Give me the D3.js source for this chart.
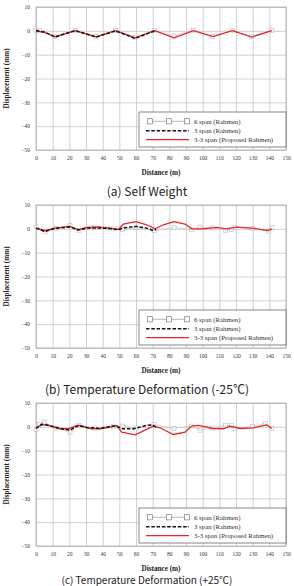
<!DOCTYPE html>
<html>
<head>
<meta charset="utf-8">
<script src="https://cdn.jsdelivr.net/npm/d3@7/dist/d3.min.js"></script>
<style>
body { margin: 0; background: #fff; }
svg { display: block; }
</style>
</head>
<body>
<svg id="chart" width="294" height="586"></svg>
<script>
// axis ticks
const xTicks = [0, 10, 20, 30, 40, 50, 60, 70, 80, 90, 100, 110, 120, 130, 140, 150];
const yTicks = [10, 0, -10, -20, -30, -40, -50];
const seriesNames = ["6 span (Rahmen)", "3 span (Rahmen)", "3-3 span (Proposed Rahmen)"];
const captions = ["(a) Self Weight", "(b) Temperature Deformation (-25\u2103)", "(c) Temperature Deformation (+25\u2103)"];

// (a) self weight  [distance m, displacement mm]
const selfWeight6 = [[0,0.2],[2,0],[11,-2.3],[23.5,0.2],[36,-2.4],[47.8,0.2],[59.5,-2.7],[71.2,0.2],[82.8,-2.2],[94.5,0.3],[106,-2.3],[117.8,0.2],[129.4,-2.5],[141.5,0.2]];
const selfWeight3 = [[0,0.1],[5,-0.5],[11.5,-2.6],[23.5,0.1],[36,-2.6],[47.8,0],[59.3,-3.2],[71.2,0]];
const selfWeight33 = [[0,0],[5,-0.6],[11.5,-2.5],[23.5,0.1],[36.2,-2.5],[47.8,0.1],[59.5,-2.9],[71.2,0.1],[82.8,-2.9],[94.5,0.1],[106.2,-2.4],[117.8,0.1],[129.4,-2.6],[141.5,0.1]];

// (b) temperature -25
const tempMinus6 = [[0,0.8],[5.4,-1.3],[12,0.2],[20.4,1.5],[25.8,-0.6],[35,0.4],[46.4,0],[52,-0.3],[60,0.5],[70.8,-0.8],[82.8,0.6],[93.4,-0.4],[98.4,0.7],[106,0.3],[113.8,-0.7],[117.4,-0.3],[119.4,0.6],[130,0.2],[139.4,-1],[141.5,0.6]];
const tempMinus3 = [[0,0.3],[5.4,-1.1],[11.4,0.2],[20.4,0.8],[25.4,-0.5],[30.4,0.3],[38,0.4],[46.4,0],[49.4,-0.4],[53.4,0.5],[60.4,1],[66.4,0.3],[70.4,-0.7],[72,-0.3]];
const tempMinus33 = [[0,0.3],[5.4,-0.8],[11.4,0.3],[20.4,1],[25.4,-0.4],[30.4,0.6],[37.4,0.8],[44.4,0.3],[49.4,-0.3],[52.4,2],[60,3],[66.4,1.7],[71.4,0],[76.4,1.7],[82.8,3],[89.4,2],[93.4,0],[100.4,0],[108.4,0.6],[114.4,0],[120.4,0.7],[129.4,0.3],[136.4,-0.4],[139.4,-0.7],[141.5,0]];

// (c) temperature +25
const tempPlus6 = [[0,-1.1],[2,1],[5,2],[12,-0.5],[20.4,-2.2],[25.8,0.6],[35,-0.5],[46.4,0],[52,0.3],[60,-0.5],[70.8,1],[82.8,-0.6],[93.4,0.3],[98.4,-1.4],[106,-0.5],[113.8,0.7],[117.4,0.6],[119.4,-0.6],[130,0.2],[137.5,1.4],[141.5,-0.6]];
const tempPlus3 = [[0,-0.7],[3.4,1.1],[6.4,0.8],[14.4,-0.7],[20.4,-1.4],[25.4,0.6],[30.4,-0.3],[38.4,-0.7],[45.4,0.3],[48.4,0.3],[52,-0.8],[58.4,-0.8],[66.4,0.6],[70,0.8],[72.8,-0.6]];
const tempPlus33 = [[0,-0.4],[3.4,0.8],[6.4,0.8],[14.4,-0.8],[19.4,-0.8],[23.4,0.3],[26.4,0.6],[32.4,-0.7],[38.4,-0.8],[45.4,0],[48.4,0.6],[51.4,-2.2],[59.4,-3.4],[66.4,-1.1],[70.4,0.3],[74.4,-0.4],[82.4,-3.2],[89.4,-2.2],[93.4,0.3],[97.4,0.6],[106.4,-0.7],[112.4,-0.8],[116.4,0.3],[122.4,-0.7],[130.4,-0.4],[138.4,0.8],[141.5,-0.7]];

const panels = [
    {caption: captions[0], six: selfWeight6, three: selfWeight3, proposed: selfWeight33},
    {caption: captions[1], six: tempMinus6, three: tempMinus3, proposed: tempMinus33},
    {caption: captions[2], six: tempPlus6, three: tempPlus3, proposed: tempPlus33}
];

const svg = d3.select("#chart");
const margin = {left: 36, top: 7};
const plotW = 250, plotH = 143, panelStep = 198;
const serif = "'Liberation Serif', 'Times New Roman', serif";

let x = d3.scaleLinear().domain([0, 150]).range([0, plotW]);
let y = d3.scaleLinear().domain([-50, 10]).range([plotH, 0]);

let line = d3.line().x(d => x(d[0])).y(d => y(d[1]));

function drawPanel(p, i) {
    let g = svg.append("g")
        .attr("transform", "translate(" + margin.left + "," + (margin.top + i * panelStep) + ")");

    // grid + tick labels
    let xAxis = g.append("g").attr("transform", "translate(0," + plotH + ")")
        .call(d3.axisBottom(x).tickValues(xTicks).tickSizeInner(-plotH).tickSizeOuter(0).tickPadding(6.5));
    let yAxis = g.append("g")
        .call(d3.axisLeft(y).tickValues(yTicks).tickSizeInner(-plotW).tickSizeOuter(0).tickPadding(6));
    [xAxis, yAxis].forEach(a => {
        a.select(".domain").remove();
        a.selectAll("line").attr("stroke", "#c4c4c4").attr("stroke-width", 0.8);
        a.selectAll("text").attr("font-family", serif).attr("font-size", 5.5).attr("fill", "#333");
    });

    g.append("rect").attr("width", plotW).attr("height", plotH)
        .attr("fill", "none").attr("stroke", "#a8a8a8").attr("stroke-width", 0.8);

    // series
    g.append("path").datum(p.six).attr("d", line)
        .attr("fill", "none").attr("stroke", "#c6c6c6").attr("stroke-width", 0.8);
    g.selectAll("rect.mk").data(p.six).enter().append("rect")
        .attr("class", "mk")
        .attr("x", d => x(d[0]) - 2).attr("y", d => y(d[1]) - 2)
        .attr("width", 4).attr("height", 4)
        .attr("fill", "#fff").attr("fill-opacity", 0.5).attr("stroke", "#bbb").attr("stroke-width", 0.6);
    g.append("path").datum(p.proposed).attr("d", line)
        .attr("fill", "none").attr("stroke", "#e5262b").attr("stroke-width", 1.3);
    g.append("path").datum(p.three).attr("d", line)
        .attr("fill", "none").attr("stroke", "#111").attr("stroke-width", 1.5)
        .attr("stroke-dasharray", "3.5,1.8");

    // axis titles
    g.append("text").attr("x", plotW / 2).attr("y", plotH + 25)
        .attr("text-anchor", "middle").attr("font-family", serif).attr("font-weight", "bold")
        .attr("font-size", 7.2).attr("fill", "#222").text("Distance (m)");
    g.append("text").attr("transform", "translate(-27.5," + (plotH / 2) + ") rotate(-90)")
        .attr("text-anchor", "middle").attr("font-family", serif).attr("font-weight", "bold")
        .attr("font-size", 7.2).attr("fill", "#222").text("Displacement (mm)");

    // legend
    let lg = g.append("g").attr("transform", "translate(103,105)");
    lg.append("rect").attr("width", plotW - 103).attr("height", 35)
        .attr("fill", "#fff").attr("stroke", "#555").attr("stroke-width", 0.7);
    let rows = [9.3, 18.7, 27.7];
    // 6 span sample
    lg.append("line").attr("x1", 11).attr("x2", 48).attr("y1", rows[0]).attr("y2", rows[0])
        .attr("stroke", "#9a9a9a").attr("stroke-width", 0.7);
    [11, 30, 48].forEach(cx => lg.append("rect").attr("x", cx - 2.6).attr("y", rows[0] - 2.6)
        .attr("width", 5.2).attr("height", 5.2).attr("fill", "#fff").attr("stroke", "#666").attr("stroke-width", 0.6));
    lg.append("line").attr("x1", 7).attr("x2", 50).attr("y1", rows[1]).attr("y2", rows[1])
        .attr("stroke", "#111").attr("stroke-width", 1.6).attr("stroke-dasharray", "3.5,1.8");
    lg.append("line").attr("x1", 7).attr("x2", 50).attr("y1", rows[2]).attr("y2", rows[2])
        .attr("stroke", "#e5262b").attr("stroke-width", 1.2);
    seriesNames.forEach((n, k) => {
        lg.append("text").attr("x", 55).attr("y", rows[k] + 2.2)
            .attr("font-family", serif).attr("font-size", 6.8).attr("fill", "#333").text(n);
    });

    // caption (last one sits at the bottom edge, keep it small enough to stay inside)
    let last = i === panels.length - 1;
    svg.append("text").attr("x", 147).attr("y", last ? 583.5 : 196 + i * panelStep)
        .attr("text-anchor", "middle").attr("font-family", "'Noto Sans CJK KR', 'DejaVu Sans', sans-serif")
        .attr("font-size", last ? 10 : 12).attr("fill", "#222").text(p.caption);
}

panels.forEach((p, i) => drawPanel(p, i));
</script>
</body>
</html>
